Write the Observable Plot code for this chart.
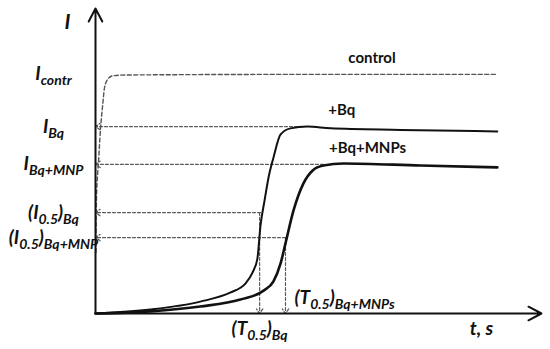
<!DOCTYPE html>
<html><head><meta charset="utf-8">
<script src="https://cdn.jsdelivr.net/npm/d3@7"></script>
<script src="https://cdn.jsdelivr.net/npm/@observablehq/plot@0.6"></script>
<style>body{margin:0;background:#fff}</style>
</head><body><div id="chart"></div>
<script>
// Curves (t in arbitrary time units, I in arbitrary intensity units)
const ctrlT = [0.1, 0.2, 0.7, 1.1, 1.6, 2.0, 2.7, 3.8, 6.7, 46, 90.1];
const ctrlI = [20, 37, 50.2, 60, 68.2, 73.8, 76.7, 77.9, 78.2, 78.4, 78.4];
const bqT = [0, 12.3, 23.5, 30.3, 33.6, 35.2, 36.3, 37.0, 37.9, 38.8, 39.9, 41.5, 43.7, 47.5, 52.7, 68.4, 90.1];
const bqI = [0, 1.3, 3.9, 6.9, 9.8, 13.4, 18.0, 28.9, 37.0, 44.6, 51.1, 58.7, 60.7, 61.3, 60.7, 60.2, 59.7];
const mnpT = [0, 12.3, 23.5, 32.5, 37.7, 39.9, 41.5, 42.6, 44.4, 46.6, 48.7, 51.1, 55.6, 72.9, 90.1];
const mnpI = [0, 0.7, 2.3, 4.6, 7.5, 10.5, 16.4, 23.0, 33.8, 42.6, 46.9, 48.5, 49.2, 48.5, 47.9];

// Characteristic levels and times
const levelNames = ["I_{contr}", "I_{Bq}", "I_{Bq+MNP}", "(I_{0.5})_{Bq}", "(I_{0.5})_{Bq+MNP}"];
const levelValues = [78.4, 61.3, 48.9, 33.1, 24.9];
const guideLevels = [61.3, 48.9, 33.1, 24.9];
const guideEndT = [45.3, 51.1, 37.0, 42.6];
const halfTimes = [36.8, 42.6];
const halfLevels = [33.1, 24.9];
const halfTimeNames = ["(T_{0.5})_{Bq}", "(T_{0.5})_{Bq+MNPs}"];
const seriesNames = ["control", "+Bq", "+Bq+MNPs"];
const seriesLabelT = [62, 55.2, 61];
const seriesLevels = [78.4, 61.3, 48.9];

const zip = (xs, ys) => xs.map((x, i) => ({t: x, I: ys[i]}));
const ctrl = zip(ctrlT, ctrlI), bq = zip(bqT, bqI), mnp = zip(mnpT, mnpI);
const guides = guideLevels.map((v, i) => ({t1: guideEndT[i], t2: 0, v}));
const drops = halfTimes.map((t, i) => ({t, v1: halfLevels[i], v2: 0}));

const F = "Lato, 'Open Sans', sans-serif";
const dash = "3,2";
const guideColor = "#5a5a5a";

const chart = Plot.plot({
  width: 550, height: 349,
  marginLeft: 95, marginRight: 9, marginTop: 8, marginBottom: 36,
  style: {fontFamily: F, background: "#fff"},
  x: {domain: [0, 100], axis: null},
  y: {domain: [0, 100], axis: null},
  marks: [
    Plot.line(ctrl, {x: "t", y: "I", stroke: "#555", strokeWidth: 1.4, strokeDasharray: "4,2.5", curve: "monotone-x"}),
    Plot.arrow(guides, {x1: "t1", x2: "t2", y1: "v", y2: "v", stroke: guideColor, strokeWidth: 1.2, strokeDasharray: dash, headLength: 7, headAngle: 70}),
    Plot.arrow(drops, {x1: "t", x2: "t", y1: "v1", y2: "v2", stroke: guideColor, strokeWidth: 1.2, strokeDasharray: dash, headLength: 7, headAngle: 70}),
    Plot.line(bq, {x: "t", y: "I", stroke: "#111", strokeWidth: 2, curve: "monotone-x"}),
    Plot.line(mnp, {x: "t", y: "I", stroke: "#111", strokeWidth: 2.6, curve: "monotone-x"}),
    Plot.arrow([{x1: 0, y1: 0, x2: 100, y2: 0}], {x1: "x1", y1: "y1", x2: "x2", y2: "y2", stroke: "#111", strokeWidth: 2, headLength: 11, headAngle: 55}),
    Plot.arrow([{x1: 0, y1: 0, x2: 0, y2: 100}], {x1: "x1", y1: "y1", x2: "x2", y2: "y2", stroke: "#111", strokeWidth: 2, headLength: 11, headAngle: 55}),
    Plot.axisY(levelValues, {tickSize: 0, tickPadding: 42, textAnchor: "middle", tickFormat: (d, i) => levelNames[i], label: null, fontSize: 19, fontWeight: "bold", fontStyle: "italic", fill: "#111"}),
    Plot.text(seriesNames, {x: (d, i) => seriesLabelT[i], y: (d, i) => seriesLevels[i], text: d => d, dy: -16, fontSize: 15, fontWeight: "bold", fill: "#111"}),
    Plot.text(["I"], {x: 0, y: 100, text: d => d, dx: -28, dy: 14, fontSize: 21, fontWeight: "bold", fontStyle: "italic", fill: "#111"}),
    Plot.text(["t, s"], {x: 100, y: 0, text: d => d, dx: -60, dy: 15, fontSize: 19, fontWeight: "bold", fontStyle: "italic", fill: "#111"}),
    Plot.text([halfTimeNames[0]], {x: halfTimes[0], y: 0, text: d => d, dy: 15, fontSize: 19, fontWeight: "bold", fontStyle: "italic", fill: "#111"}),
    Plot.text([halfTimeNames[1]], {x: halfTimes[1], y: 0, text: d => d, dx: 9, dy: -16, textAnchor: "start", fontSize: 19, fontWeight: "bold", fontStyle: "italic", fill: "#111"})
  ]
});

// Turn "_{...}" markup into real subscripts
chart.querySelectorAll("text").forEach(el => {
  const s = el.textContent;
  if (!s.includes("_{")) return;
  el.textContent = "";
  const NS = "http://www.w3.org/2000/svg";
  let i = 0, shift = 0;
  const sub = 5;
  while (i < s.length) {
    let seg, isSub = false;
    if (s.startsWith("_{", i)) {
      const j = s.indexOf("}", i);
      seg = s.slice(i + 2, j); isSub = true; i = j + 1;
    } else {
      const j = s.indexOf("_{", i);
      const e = j < 0 ? s.length : j;
      seg = s.slice(i, e); i = e;
    }
    const ts = document.createElementNS(NS, "tspan");
    ts.textContent = seg;
    if (isSub) {
      ts.setAttribute("font-size", "14");
      if (shift === 0) { ts.setAttribute("dy", sub); shift = sub; }
    } else if (shift !== 0) {
      ts.setAttribute("dy", -shift); shift = 0;
    }
    el.appendChild(ts);
  }
});

document.getElementById("chart").appendChild(chart);
</script>
</body></html>
